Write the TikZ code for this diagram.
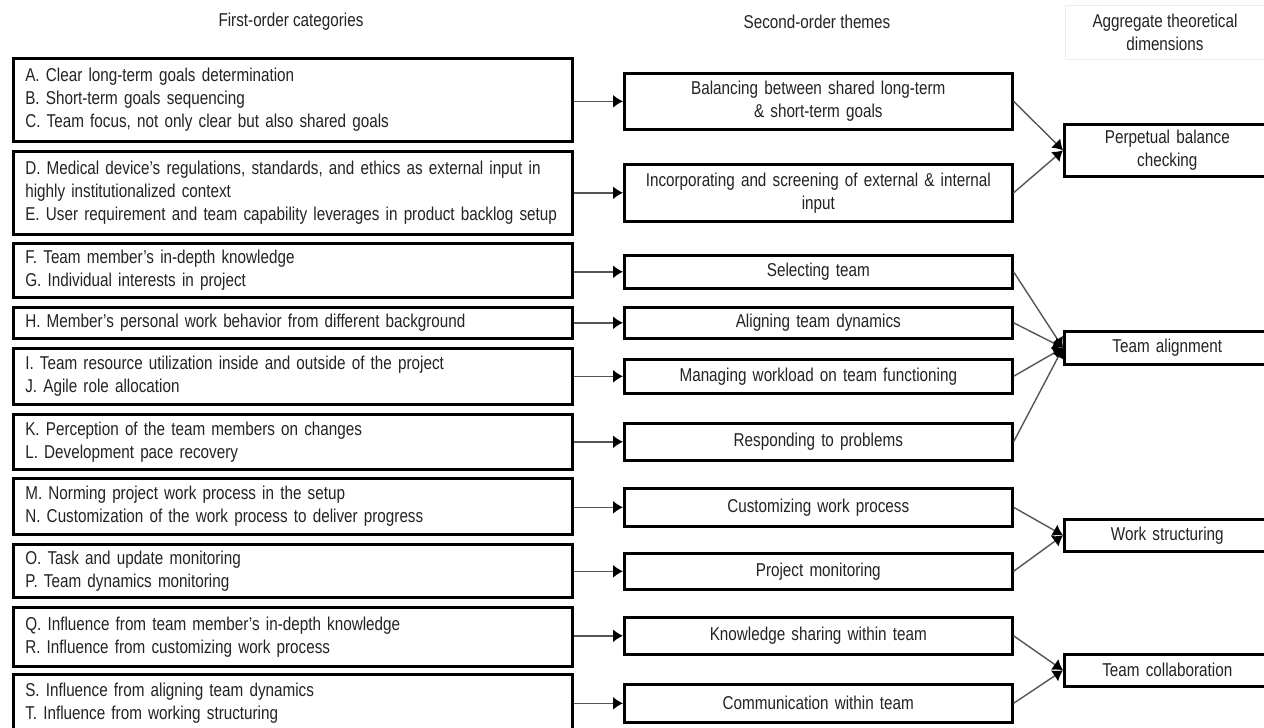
\documentclass[tikz,border=0pt]{standalone}
\usepackage{fontspec}
\setmainfont[FakeStretch=0.82]{Liberation Sans}
\usepackage{tikz}
\usetikzlibrary{arrows.meta}
\definecolor{txt}{RGB}{35,35,35}
\definecolor{lnk}{RGB}{85,85,85}

\begin{document}
\begin{tikzpicture}[x=0.5pt,y=-0.5pt,
  every node/.style={font=\fontsize{9.3}{11.5}\selectfont, text=txt},
  first/.style={draw, line width=1.3pt, anchor=north west, inner xsep=6pt, inner ysep=0pt, text width=267.5pt, align=left},
  theme/.style={draw, line width=1.3pt, anchor=north west, inner xsep=4pt, inner ysep=0pt, text width=186pt, align=center},
  dimen/.style={draw, line width=1.3pt, anchor=north west, inner xsep=6pt, inner ysep=0pt, text width=91pt, align=center},
  link/.style={lnk, line width=0.7pt, -{Latex[length=5pt,width=6.5pt,black]}}]
\useasboundingbox (0,0) rectangle (1264,728);
\fill[white] (0,0) rectangle (1264,728);

% headings
\node (hfirst) at (291,22) {First-order categories};
\node (hsecond) at (817,22) {Second-order themes};
\node[draw=black!7, align=center, minimum width=100pt, minimum height=27pt, inner sep=1pt] (hagg) at (1165,32) {Aggregate theoretical\\dimensions};

% first-order categories
\node[first, minimum height=41.5pt] (ac) at (12,57) {A. Clear long-term goals determination\\B. Short-term goals sequencing\\C. Team focus, not only clear but also shared goals};
\node[first, minimum height=41.5pt] (de) at (12,150) {D. Medical device’s regulations, standards, and ethics as external input in\\highly institutionalized context\\E. User requirement and team capability leverages in product backlog setup};
\node[first, minimum height=27pt] (fg) at (12,242) {F. Team member’s in-depth knowledge\\G. Individual interests in project};
\node[first, minimum height=15.5pt] (h) at (12,306) {H. Member’s personal work behavior from different background};
\node[first, minimum height=28pt] (ij) at (12,347) {I. Team resource utilization inside and outside of the project\\J. Agile role allocation};
\node[first, minimum height=27.5pt] (kl) at (12,413) {K. Perception of the team members on changes\\L. Development pace recovery};
\node[first, minimum height=28pt] (mn) at (12,477) {M. Norming project work process in the setup\\N. Customization of the work process to deliver progress};
\node[first, minimum height=26.5pt] (op) at (12,543) {O. Task and update monitoring\\P. Team dynamics monitoring};
\node[first, minimum height=29.5pt] (qr) at (12,606) {Q. Influence from team member’s in-depth knowledge\\R. Influence from customizing work process};
\node[first, minimum height=29pt] (st) at (12,673) {S. Influence from aligning team dynamics\\T. Influence from working structuring};

% second-order themes
\node[theme, minimum height=28pt] (bal) at (623,72) {Balancing between shared long-term\\\& short-term goals};
\node[theme, minimum height=28.5pt] (inc) at (623,163) {Incorporating and screening of external \& internal\\input};
\node[theme, minimum height=16.5pt] (sel) at (623,254) {Selecting team};
\node[theme, minimum height=15.5pt] (ali) at (623,306) {Aligning team dynamics};
\node[theme, minimum height=17pt] (man) at (623,358) {Managing workload on team functioning};
\node[theme, minimum height=18.5pt] (res) at (623,422) {Responding to problems};
\node[theme, minimum height=19pt] (cus) at (623,487) {Customizing work process};
\node[theme, minimum height=18pt] (pro) at (623,552) {Project monitoring};
\node[theme, minimum height=18.5pt] (kno) at (623,616) {Knowledge sharing within team};
\node[theme, minimum height=19pt] (com) at (623,683) {Communication within team};

% aggregate dimensions
\node[dimen, minimum height=26pt] (pbc) at (1063,123) {Perpetual balance\\checking};
\node[dimen, minimum height=16.5pt] (tal) at (1063,330) {Team alignment};
\node[dimen, minimum height=16pt] (wst) at (1063,518) {Work structuring};
\node[dimen, minimum height=16pt] (tco) at (1063,653) {Team collaboration};

% links
\draw[link] (ac.east |- bal.west) -- (bal.west);
\draw[link] (de.east |- inc.west) -- (inc.west);
\draw[link] (fg.east |- sel.west) -- (sel.west);
\draw[link] (h.east |- ali.west) -- (ali.west);
\draw[link] (ij.east |- man.west) -- (man.west);
\draw[link] (kl.east |- res.west) -- (res.west);
\draw[link] (mn.east |- cus.west) -- (cus.west);
\draw[link] (op.east |- pro.west) -- (pro.west);
\draw[link] (qr.east |- kno.west) -- (kno.west);
\draw[link] (st.east |- com.west) -- (com.west);

\draw[link] (bal.east) -- (pbc.west);
\draw[link] (inc.east) -- (pbc.west);
\draw[link] (sel.east) -- (tal.west);
\draw[link] (ali.east) -- (tal.west);
\draw[link] (man.east) -- (tal.west);
\draw[link] (res.east) -- (tal.west);
\draw[link] (cus.east) -- (wst.west);
\draw[link] (pro.east) -- (wst.west);
\draw[link] (kno.east) -- (tco.west);
\draw[link] (com.east) -- (tco.west);

\end{tikzpicture}
\end{document}
